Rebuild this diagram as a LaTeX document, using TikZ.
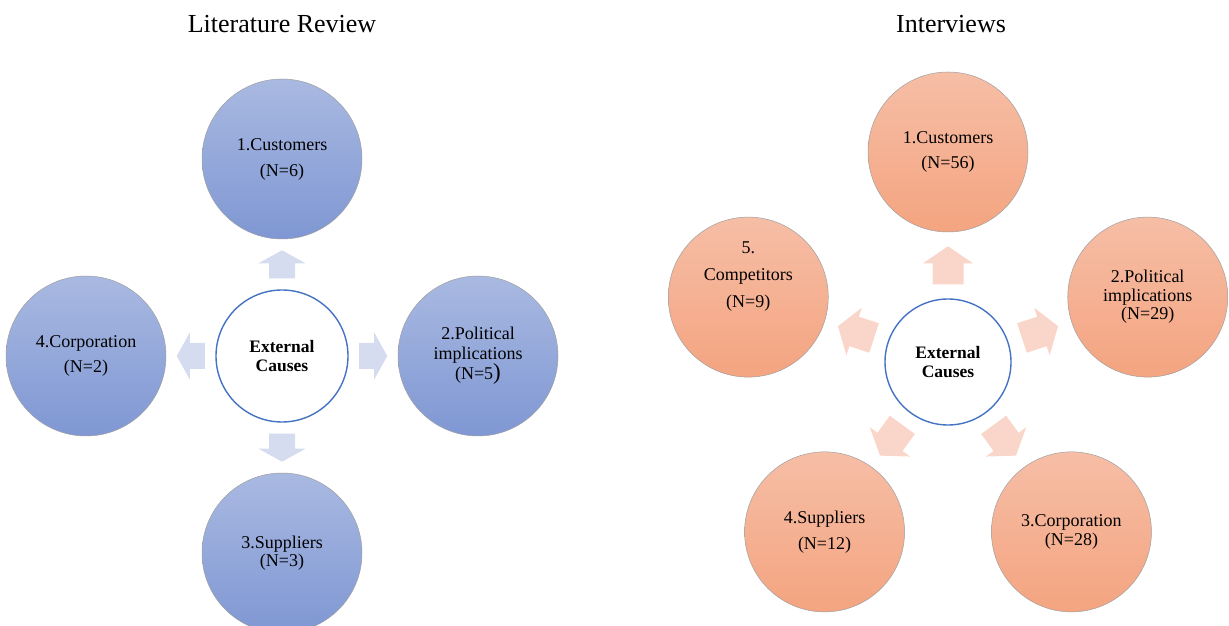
\documentclass[tikz,border=0pt]{standalone}
\usepackage{fontspec}
\setmainfont{Liberation Serif}
\usetikzlibrary{calc}

\definecolor{lrTop}{HTML}{A9B9E1}
\definecolor{lrBot}{HTML}{7F97D3}
\definecolor{ivTop}{HTML}{F6BEA6}
\definecolor{ivBot}{HTML}{F4A480}
\definecolor{lrArrow}{HTML}{D5DCEF}
\definecolor{ivArrow}{HTML}{F9D6C9}
\definecolor{hubLine}{HTML}{4472C4}

\tikzset{
  % block arrow pointing along +x: half length, half shaft width, half head width, head length
  pics/blockarrow/.style n args={4}{code={
    \path[pic actions] (-#1,-#2) -- ({#1-#4},-#2) -- ({#1-#4},-#3) -- (#1,0)
      -- ({#1-#4},#3) -- ({#1-#4},#2) -- (-#1,#2) -- cycle;
  }},
}

\begin{document}
\begin{tikzpicture}[x=1pt,y=1pt,
  title/.style={font=\fontsize{26}{30}\selectfont},
  topic/.style={circle, draw=gray!75, line width=0.5pt, minimum size=160pt,
    inner sep=0pt, align=center, font=\fontsize{18}{#1}\selectfont},
  lrtopic/.style={topic=#1, top color=lrTop, bottom color=lrBot},
  ivtopic/.style={topic=#1, top color=ivTop, bottom color=ivBot},
  hub/.style={circle, draw=hubLine, line width=1.4pt, fill=white, inner sep=0pt,
    align=center, font=\bfseries\fontsize{17.5}{18.5}\selectfont},
  topictext/.style={align=center, font=\fontsize{18}{#1}\selectfont},
]
\path[use as bounding box] (0,0) rectangle (1229,626);

% ---------- Literature review ----------
\node[title] (lrT) at (282,602) {Literature Review};
\node[hub, minimum size=132pt] (lrH) at (282,270) {External\\Causes};
\node[lrtopic=26] (lr1) at ($(lrH)+(0,197)$) {1.Customers\\(N=6)};
\node[lrtopic=20] (lr2) at ($(lrH)+(196,0)$)
  {2.Political\\implications\\(N=5{\fontsize{23}{23}\selectfont)}};
\node[lrtopic=18] (lr3) at ($(lrH)+(0,-197)$) {3.Suppliers\\(N=3)};
\node[lrtopic=25] (lr4) at ($(lrH)+(-196,0)$) {4.Corporation\\(N=2)};

\foreach \t/\a/\b in {lr1/90/270, lr2/0/180, lr3/270/90, lr4/180/0}
  \pic[fill=lrArrow, rotate=\a] at ($(lrH.\a)!0.5!(\t.\b)$) {blockarrow={14}{13}{23.5}{13}};

% ---------- Interviews ----------
\node[title] (ivT) at (951,602) {Interviews};
\node[hub, minimum size=126pt] (ivH) at (948,264) {External\\Causes};
\node[ivtopic=25] (iv1) at ($(ivH)+(90:210)$) {1.Customers\\(N=56)};
\node[ivtopic=18.5] (iv2) at ($(ivH)+(18:210)$) {2.Political\\implications\\(N=29)};
\node[ivtopic=19] (iv3) at ($(ivH)+(-54:210)$) {3.Corporation\\(N=28)};
\node[ivtopic=26] (iv4) at ($(ivH)+(-126:210)$) {4.Suppliers\\(N=12)};
\node[ivtopic=27] (iv5) at ($(ivH)+(162:210)$) {};
\node[topictext=27] (iv5t) at ($(iv5)+(0,21)$) {5.\\Competitors\\(N=9)};

\foreach \t/\a/\b in {iv1/90/270, iv2/18/198, iv3/-54/126, iv4/-126/54, iv5/162/-18}
  \pic[fill=ivArrow, rotate=\a] at ($(ivH.\a)!0.5!(\t.\b)$) {blockarrow={19}{15.5}{25}{17}};
\end{tikzpicture}
\end{document}
